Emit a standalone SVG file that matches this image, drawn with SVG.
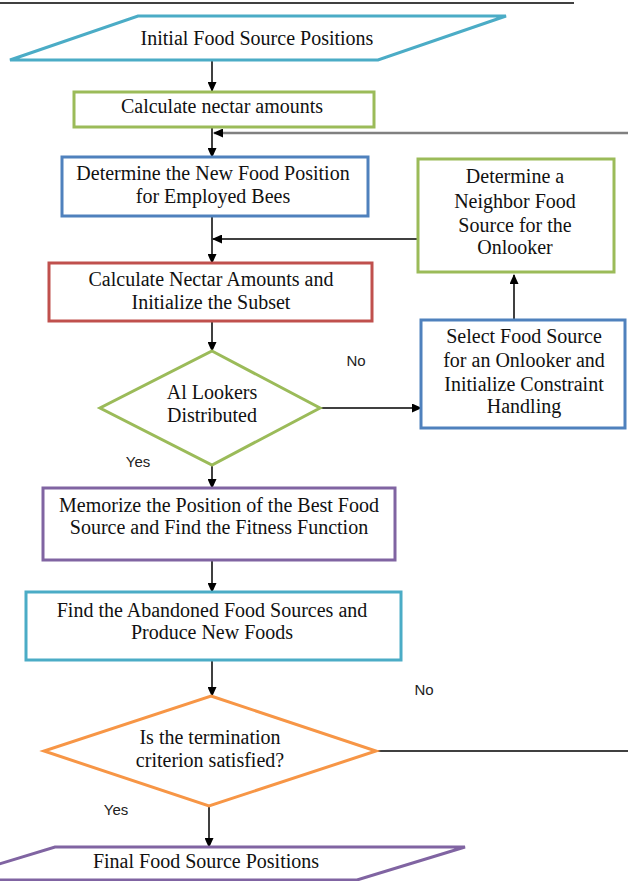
<svg xmlns="http://www.w3.org/2000/svg" width="628" height="881" viewBox="0 0 628 881">
<defs>
<marker id="ah" markerUnits="userSpaceOnUse" markerWidth="10" markerHeight="9" refX="9" refY="4.5" orient="auto">
<path d="M0,0 L10,4.5 L0,9 z" fill="#000"/>
</marker>
</defs>
<style>
.t{font-family:"Liberation Serif","Times New Roman",serif;font-size:20px;fill:#111;text-anchor:middle}
.s{font-family:"Liberation Sans",Arial,sans-serif;font-size:15px;fill:#222;text-anchor:middle}
.b{fill:#fff;stroke-width:3}
.c{fill:none;stroke:#000;stroke-width:1.5}
</style>
<rect width="628" height="881" fill="#fff"/>
<line x1="0" y1="3" x2="574" y2="3" stroke="#000" stroke-width="1.5"/>
<g id="connectors">
<line class="c" x1="212" y1="61" x2="212" y2="91" marker-end="url(#ah)"/>
<line class="c" x1="212" y1="127" x2="212" y2="157" marker-end="url(#ah)"/>
<line x1="628" y1="133" x2="214" y2="133" stroke="#808080" stroke-width="2.5" marker-end="url(#ah)"/>
<line class="c" x1="212" y1="216" x2="212" y2="263" marker-end="url(#ah)"/>
<line class="c" x1="418" y1="239" x2="213" y2="239" marker-end="url(#ah)"/>
<line class="c" x1="212" y1="321" x2="212" y2="351" marker-end="url(#ah)"/>
<line class="c" x1="320" y1="408" x2="421" y2="408" marker-end="url(#ah)"/>
<line class="c" x1="514" y1="320" x2="514" y2="275" marker-end="url(#ah)"/>
<line class="c" x1="212" y1="465" x2="212" y2="488" marker-end="url(#ah)"/>
<line class="c" x1="212" y1="560" x2="212" y2="592" marker-end="url(#ah)"/>
<line class="c" x1="212" y1="660" x2="212" y2="696" marker-end="url(#ah)"/>
<line class="c" x1="376" y1="751" x2="628" y2="751"/>
<line class="c" x1="209" y1="806" x2="209" y2="847" marker-end="url(#ah)"/>
<text class="s" x="356" y="366">No</text>
<text class="s" x="138" y="467">Yes</text>
<text class="s" x="424" y="695">No</text>
<text class="s" x="116" y="815">Yes</text>
</g>
<g id="initial">
<polygon class="b" points="138,16 506,16 378,60 10,60" stroke="#4BACC6"/>
<text class="t" x="257" y="45">Initial Food Source Positions</text>
</g>
<g id="calc-nectar">
<rect class="b" x="74" y="92" width="300" height="35" stroke="#9BBB59"/>
<text class="t" x="222" y="113">Calculate nectar amounts</text>
</g>
<g id="determine-new">
<rect class="b" x="62" y="157" width="306" height="59" stroke="#4F81BD"/>
<text class="t" x="213" y="180">Determine the New Food Position</text>
<text class="t" x="213" y="203">for Employed Bees</text>
</g>
<g id="neighbor">
<rect class="b" x="418" y="159" width="196" height="113" stroke="#9BBB59"/>
<text class="t" x="515" y="183">Determine a</text>
<text class="t" x="515" y="208">Neighbor Food</text>
<text class="t" x="515" y="232">Source for the</text>
<text class="t" x="515" y="254">Onlooker</text>
</g>
<g id="calc-subset">
<rect class="b" x="49" y="263" width="323" height="58" stroke="#C0504D"/>
<text class="t" x="211" y="286">Calculate Nectar Amounts and</text>
<text class="t" x="211" y="309">Initialize the Subset</text>
</g>
<g id="lookers">
<polygon class="b" points="212,351 320,408 212,465 100,408" stroke="#9BBB59"/>
<text class="t" x="212" y="399">Al Lookers</text>
<text class="t" x="212" y="422">Distributed</text>
</g>
<g id="select">
<rect class="b" x="421" y="320" width="204" height="108" stroke="#4F81BD"/>
<text class="t" x="524" y="343">Select Food Source</text>
<text class="t" x="524" y="367">for an Onlooker and</text>
<text class="t" x="524" y="391">Initialize Constraint</text>
<text class="t" x="524" y="413">Handling</text>
</g>
<g id="memorize">
<rect class="b" x="43" y="488" width="352" height="72" stroke="#8064A2"/>
<text class="t" x="219" y="512">Memorize the Position of the Best Food</text>
<text class="t" x="219" y="534">Source and Find the Fitness Function</text>
</g>
<g id="abandoned">
<rect class="b" x="26" y="592" width="375" height="68" stroke="#4BACC6"/>
<text class="t" x="212" y="617">Find the Abandoned Food Sources and</text>
<text class="t" x="212" y="639">Produce New Foods</text>
</g>
<g id="termination">
<polygon class="b" points="211,696 376,751 209,806 44,751" stroke="#F79646"/>
<text class="t" x="210" y="744">Is the termination</text>
<text class="t" x="210" y="767">criterion satisfied?</text>
</g>
<g id="final">
<polygon class="b" points="55,847 465,847 357,880 -53,880" stroke="#8064A2"/>
<text class="t" x="206" y="868">Final Food Source Positions</text>
</g>
</svg>
